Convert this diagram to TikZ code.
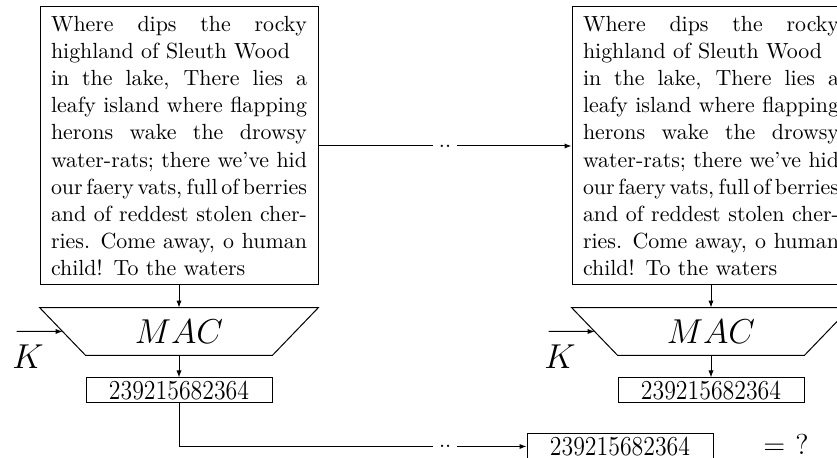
\documentclass[tikz,border=0pt]{standalone}
\usepackage{graphicx}
\usetikzlibrary{arrows.meta,calc}

% The poem, set line by line (stretched lines are justified to the full width;
% interword glue is made flexible again, since align=left fixes it)
\newlength\poemwidth
\setlength\poemwidth{128pt}
\newcommand\poemline[1]{\makebox[\poemwidth][s]{%
  \spaceskip=.3333em plus .3em minus .2em\xspaceskip=.45em plus .3em minus .2em #1}\\}
\newcommand\poemtext{%
  \poemline{Where dips the rocky}
  highland of Sleuth Wood\\
  \poemline{in the lake, There lies a}
  \poemline{leafy island where flapping}
  \poemline{herons wake the drowsy}
  \poemline{water-rats; there we've hid}
  \poemline{our faery vats, full of berries}
  \poemline{and of reddest stolen cher-}
  \poemline{ries. Come away, o human}
  child! To the waters}
\newcommand\tagvalue{\scalebox{0.87}[1]{239215682364}}

\tikzset{
  poembox/.style={draw, line width=0.5pt, minimum width=139pt, minimum height=139pt,
    inner sep=0pt, text width=\poemwidth, align=left,
    font=\fontsize{10.95}{13.6}\selectfont},
  macbox/.style={minimum width=139pt, minimum height=23.5pt, inner sep=0pt,
    font=\fontsize{19}{22}\selectfont},
  tagbox/.style={draw, line width=0.5pt, minimum width=93pt, minimum height=12.5pt,
    inner sep=0pt, font=\fontsize{13.7}{16}\selectfont},
  keylabel/.style={inner sep=0pt, font=\fontsize{16}{19}\selectfont},
  gapdots/.style={fill=white, inner xsep=3pt, inner ysep=1pt,
    font=\fontsize{10.95}{13.6}\selectfont},
  link/.style={line width=0.5pt, -{Latex[length=3.5pt,width=2.6pt]}},
  macedge/.style={line width=0.5pt},
}

\begin{document}
\begin{tikzpicture}[x=0.5pt, y=-0.5pt]
  \useasboundingbox (0,0) rectangle (837,458);
  \clip (0,0) rectangle (837,458);

  % sender side
  \node[poembox] (box1) at (179,146) {\poemtext};
  \node[macbox]  (mac1) at (179,331.5) {$MAC$};
  \node[tagbox]  (num1) at (179,390.5) {\tagvalue};
  \node[keylabel] (k1) at (28,357) {$K$};
  \coordinate (k1s) at ([xshift=-11.5pt]mac1.west);

  % receiver side
  \node[poembox] (box2) at (711,146) {\poemtext};
  \node[macbox]  (mac2) at (711,331.5) {$MAC$};
  \node[tagbox]  (num2) at (711,390.5) {\tagvalue};
  \node[keylabel] (k2) at (560,357) {$K$};
  \coordinate (k2s) at ([xshift=-11.5pt]mac2.west);

  % received tag and comparison
  \node[tagbox] (num3) at (620,446.5) {\tagvalue};
  \node[inner sep=0pt, font=\fontsize{13.7}{16}\selectfont] (cmp) at (786,445)
    {$=$\hspace{5pt}$?$};

  % MAC trapezoids
  \foreach \m in {mac1,mac2}{
    \draw[macedge] (\m.north west) -- (\m.north east)
      -- ([xshift=-23pt]\m.south east) -- ([xshift=23pt]\m.south west) -- cycle;
  }

  % connectors
  \draw[link] (box1.south) -- (mac1.north);
  \draw[link] (mac1.south) -- (num1.north);
  \draw[link] (k1s) -- ($(mac1.north west)!0.5!([xshift=23pt]mac1.south west)$);

  \draw[link] (box2.south) -- (mac2.north);
  \draw[link] (mac2.south) -- (num2.north);
  \draw[link] (k2s) -- ($(mac2.north west)!0.5!([xshift=23pt]mac2.south west)$);

  \draw[link] (box1.east) -- node[gapdots] {..} (box2.west);
  \draw[link] (num1.south) |- node[gapdots, pos=0.883] {..} (num3.west);
\end{tikzpicture}
\end{document}
